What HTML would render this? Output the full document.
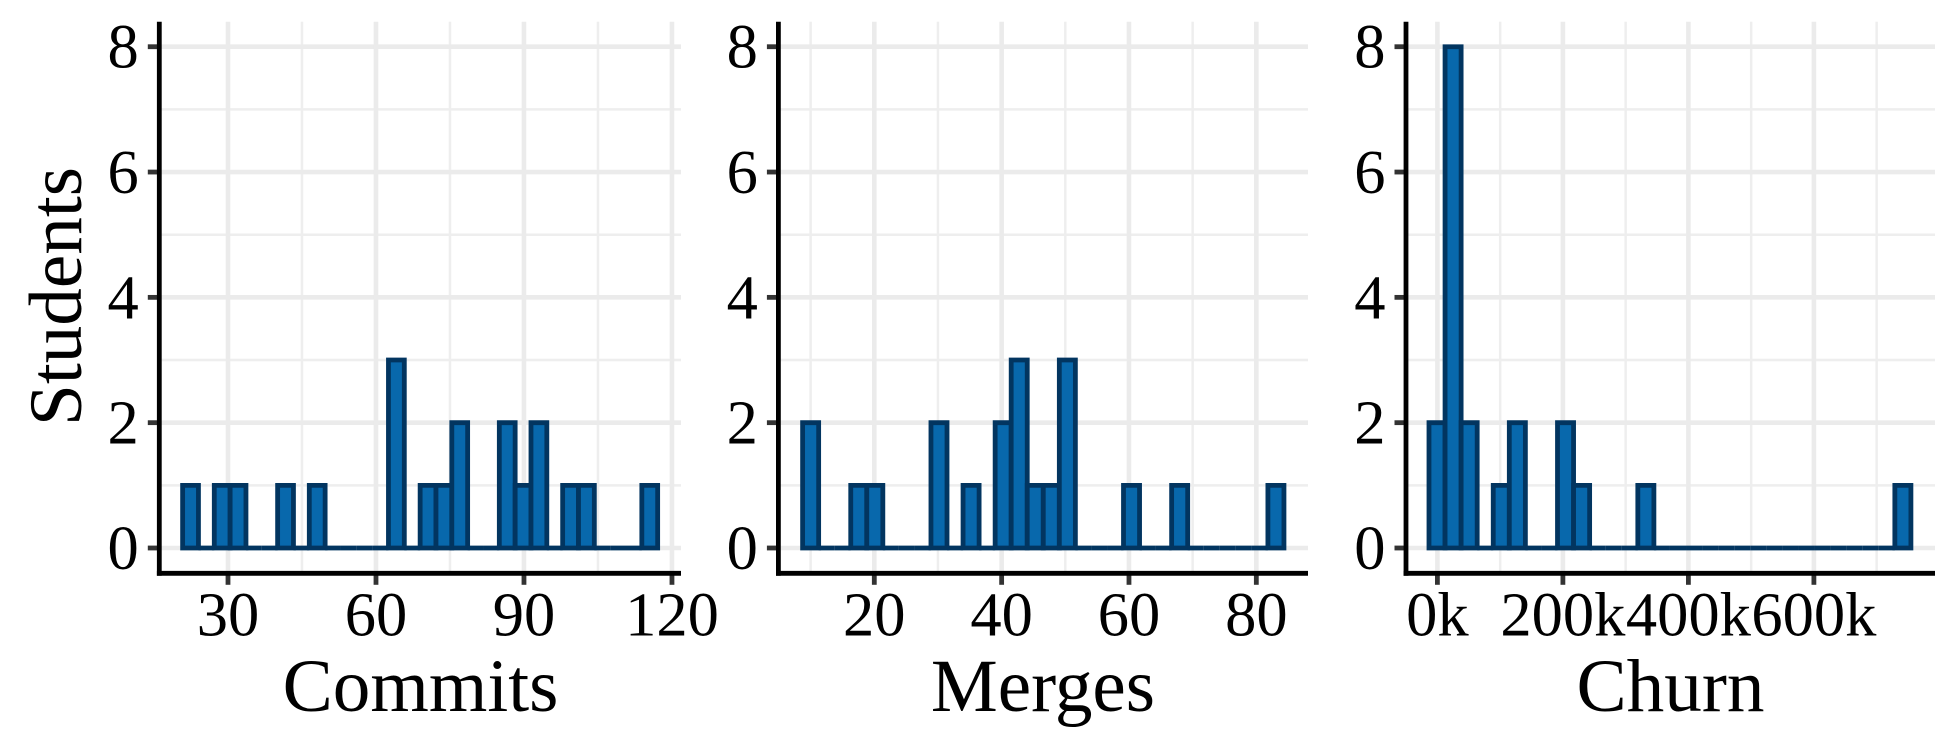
<!DOCTYPE html>
<html lang="en">
<head>
<meta charset="utf-8">
<title>Student contribution histograms</title>
<style>
html,body{margin:0;padding:0;background:#fff;width:1939px;height:749px;overflow:hidden}
svg{display:block}
text{font-family:"Liberation Serif",serif;fill:#000}
.tick{font-size:62.5px}
.title{font-size:75.2px}
</style>
</head>
<body>
<svg id="chart" width="1939" height="749" viewBox="0 0 1939 749" xmlns="http://www.w3.org/2000/svg">
  <rect width="1939" height="749" fill="#fff"/>
  <g id="panel-commits"></g>
  <g id="panel-merges"></g>
  <g id="panel-churn"></g>
  <text class="title" transform="translate(81,296.5) rotate(-90)" text-anchor="middle">Students</text>
  <text class="title" x="420.5" y="711" text-anchor="middle">Commits</text>
  <text class="title" x="1043" y="711" text-anchor="middle">Merges</text>
  <text class="title" x="1670.5" y="711" text-anchor="middle">Churn</text>
</svg>
<script>
// Shared y axis
const yTicks = [0, 2, 4, 6, 8];
const yMinorTicks = [1, 3, 5, 7];

// Commits panel
const commitsCounts = [1,0,1,1,0,0,1,0,1,0,0,0,0,3,0,1,1,2,0,0,2,1,2,0,1,1,0,0,0,1];
const commitsTicks = [30, 60, 90, 120];
const commitsTickLabels = ['30', '60', '90', '120'];
const commitsMinorTicks = [45, 75, 105];

// Merges panel
const mergesCounts = [2,0,0,1,1,0,0,0,2,0,1,0,2,3,1,1,3,0,0,0,1,0,0,1,0,0,0,0,0,1];
const mergesTicks = [20, 40, 60, 80];
const mergesTickLabels = ['20', '40', '60', '80'];
const mergesMinorTicks = [10, 30, 50, 70];

// Churn panel
const churnCounts = [2,8,2,0,1,2,0,0,2,1,0,0,0,1,0,0,0,0,0,0,0,0,0,0,0,0,0,0,0,1];
const churnTicks = [0, 200, 400, 600];
const churnTickLabels = ['0k', '200k', '400k', '600k'];
const churnMinorTicks = [100, 300, 500, 700];

const NS = 'http://www.w3.org/2000/svg';
const TOP = 21.7, AXIS_Y = 573.3;
const yScale = v => 548 - v * 62.66;

function line(parent, x1, y1, x2, y2, color, width, name) {
  const el = document.createElementNS(NS, 'line');
  el.setAttribute('x1', x1);
  el.setAttribute('y1', y1);
  el.setAttribute('x2', x2);
  el.setAttribute('y2', y2);
  el.setAttribute('stroke', color);
  el.setAttribute('stroke-width', width);
  
  
  parent.appendChild(el);
}

function label(parent, x, y, anchor, str, name) {
  const el = document.createElementNS(NS, 'text');
  el.setAttribute('class', 'tick');
  el.setAttribute('x', x);
  el.setAttribute('y', y);
  el.setAttribute('text-anchor', anchor);
  el.textContent = str;
  
  
  parent.appendChild(el);
}

function drawPanel(id, left, right, xScale, binStart, binWidth, counts, ticks, tickLabels, minorTicks) {
  const g = document.getElementById(id);
  // minor grid
  yMinorTicks.forEach(v => line(g, left, yScale(v), right, yScale(v), '#eeeeee', 2.5, 'minor-gridline-y'));
  minorTicks.forEach(v => line(g, xScale(v), TOP, xScale(v), AXIS_Y, '#eeeeee', 2.5, 'minor-gridline-x'));
  // major grid
  yTicks.forEach(v => line(g, left, yScale(v), right, yScale(v), '#ebebeb', 4.6, 'major-gridline-y'));
  ticks.forEach(v => line(g, xScale(v), TOP, xScale(v), AXIS_Y, '#ebebeb', 4.6, 'major-gridline-x'));
  // bars: a path so that empty bins still stroke a flat line along zero
  counts.forEach((c, i) => {
    const x0 = xScale(binStart + i * binWidth);
    const x1 = xScale(binStart + (i + 1) * binWidth);
    const bar = document.createElementNS(NS, 'path');
    bar.setAttribute('d', 'M' + x0 + ' ' + yScale(0) + 'V' + yScale(c) + 'H' + x1 + 'V' + yScale(0) + 'Z');
    bar.setAttribute('fill', '#0868ac');
    bar.setAttribute('stroke', '#023560');
    bar.setAttribute('stroke-width', 4.8);
    bar.setAttribute('stroke-linejoin', 'miter');
    
    
    g.appendChild(bar);
  });
  // ticks and labels
  yTicks.forEach(v => {
    line(g, left - 11.5, yScale(v), left, yScale(v), '#333333', 4.8, 'y-axis-tick');
    label(g, left - 20.5, yScale(v) + 21, 'end', String(v), 'y-tick-label');
  });
  ticks.forEach((v, i) => {
    line(g, xScale(v), AXIS_Y, xScale(v), AXIS_Y + 11.5, '#333333', 4.8, 'x-axis-tick');
    label(g, xScale(v), 635.5, 'middle', tickLabels[i], 'x-tick-label');
  });
  // axis lines
  line(g, left, TOP, left, AXIS_Y + 2.4, '#000', 4.8, 'y-axis-line');
  line(g, left - 2.4, AXIS_Y, right, AXIS_Y, '#000', 4.8, 'x-axis-line');
}

drawPanel('panel-commits', 159.3, 681, v => 228 + (v - 30) * 4.933, 20.8, 3.21,
  commitsCounts, commitsTicks, commitsTickLabels, commitsMinorTicks);
drawPanel('panel-merges', 778.4, 1308, v => 874.3 + (v - 20) * 6.367, 8.74, 2.52,
  mergesCounts, mergesTicks, mergesTickLabels, mergesMinorTicks);
drawPanel('panel-churn', 1406, 1935, v => 1437.4 + v * 0.6275, -13.4, 25.6,
  churnCounts, churnTicks, churnTickLabels, churnMinorTicks);
</script>
</body>
</html>
